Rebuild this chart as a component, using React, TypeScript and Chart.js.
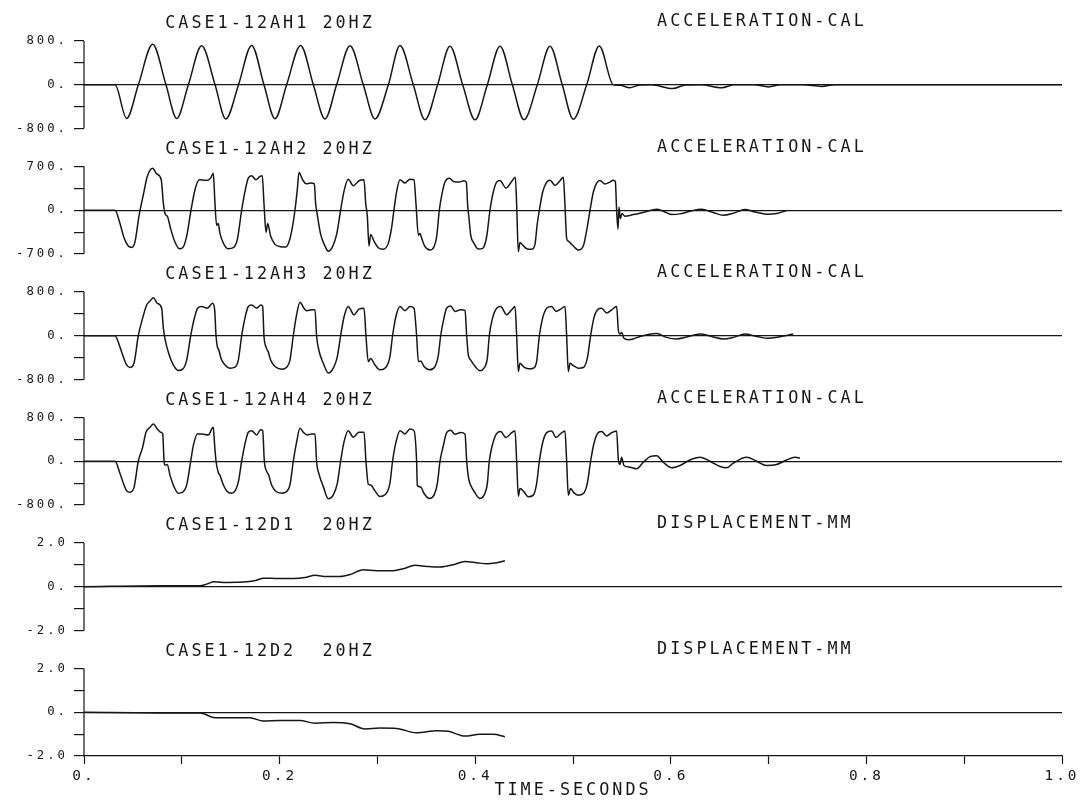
import React, { useEffect, useRef } from "react";
import { Chart, registerables } from "chart.js";

Chart.register(...registerables);

const FONT = '"DejaVu Sans Mono", "Liberation Mono", monospace';
const INK = "#161616";

// ---- panel descriptions ----
const PANEL_IDS = ["y0", "y1", "y2", "y3", "y4", "y5"];
const PANEL_LIMITS = [800, 700, 800, 800, 2, 2];
const PANEL_TICK_LABELS = [
  ["-800.", "", "0.", "", "800."],
  ["-700.", "", "0.", "", "700."],
  ["-800.", "", "0.", "", "800."],
  ["-800.", "", "0.", "", "800."],
  ["-2.0", "", "0.", "", "2.0"],
  ["-2.0", "", "0.", "", "2.0"],
];
const LEFT_TITLES = [
  "CASE1-12AH1 20HZ",
  "CASE1-12AH2 20HZ",
  "CASE1-12AH3 20HZ",
  "CASE1-12AH4 20HZ",
  "CASE1-12D1  20HZ",
  "CASE1-12D2  20HZ",
];
const RIGHT_TITLES = [
  "ACCELERATION-CAL",
  "ACCELERATION-CAL",
  "ACCELERATION-CAL",
  "ACCELERATION-CAL",
  "DISPLACEMENT-MM",
  "DISPLACEMENT-MM",
];

// ---- time axis ----
const X_TICKS = [0, 0.1, 0.2, 0.3, 0.4, 0.5, 0.6, 0.7, 0.8, 0.9, 1.0];
const X_TICK_LABELS = ["0.", "", "0.2", "", "0.4", "", "0.6", "", "0.8", "", "1.0"];
const X_TITLE = "TIME-SECONDS";

// ---- series: [time (s), value] ----
const AH1: [number, number][] = [
  [0, 0], [0.0317, 0], [0.0436, -615], [0.0556, 0], [0.0702, 740], [0.0838, 0], [0.0948, -615], [0.1067, 0],
  [0.1203, 712], [0.134, 0], [0.145, -625], [0.158, 0], [0.1714, 720], [0.184, 0], [0.1953, -620], [0.2072, 0],
  [0.2215, 720], [0.2345, 0], [0.2464, -625], [0.2583, 0], [0.272, 715], [0.2856, 0], [0.2975, -625], [0.3112, 0],
  [0.3231, 718], [0.3367, 0], [0.3487, -640], [0.3616, 0], [0.3742, 705], [0.3872, 0], [0.3998, -640], [0.4124, 0],
  [0.4254, 705], [0.438, 0], [0.4499, -640], [0.4635, 0], [0.4765, 705], [0.489, 0], [0.5003, -630], [0.514, 0],
  [0.5269, 710], [0.5412, 0], [0.548, -10], [0.558, -55], [0.568, -5], [0.58, 0], [0.602, -70], [0.615, -5],
  [0.63, 0], [0.652, -55], [0.665, 0], [0.685, 0], [0.7, -40], [0.712, 0], [0.735, 0], [0.754, -30],
  [0.768, 0], [0.8, 0], [1.0, 0],
];

const AH2: [number, number][] = [
  [0, 0], [0.0317, 0], [0.0368, -212], [0.0409, -440], [0.0453, -572], [0.0487, -594], [0.0521, -509], [0.0562, -95],
  [0.0607, 249], [0.0647, 541], [0.0702, 673], [0.0743, 583], [0.079, 488], [0.0811, 117], [0.0831, -64], [0.0852, -95],
  [0.0886, -297], [0.093, -509], [0.0975, -615], [0.1009, -599], [0.105, -413], [0.1094, 0], [0.1135, 329], [0.1179, 488],
  [0.1254, 477], [0.1295, 514], [0.1322, 594], [0.1339, 117], [0.1356, -244], [0.1373, -212], [0.139, -371], [0.1431, -546],
  [0.1475, -615], [0.1527, -599], [0.1568, -466], [0.1612, 0], [0.1646, 302], [0.168, 514], [0.1714, 551], [0.1758, 488],
  [0.1799, 541], [0.1823, 551], [0.184, 117], [0.1861, -350], [0.1878, -212], [0.1908, -413], [0.1953, -546], [0.2011, -583],
  [0.2065, -588], [0.2099, -493], [0.2133, -254], [0.2157, 0], [0.2181, 329], [0.2198, 604], [0.2236, 488], [0.227, 424],
  [0.2317, 435], [0.2355, 424], [0.2368, 117], [0.2385, -69], [0.242, -387], [0.2464, -572], [0.2498, -657], [0.2542, -583],
  [0.2583, -387], [0.2624, 0], [0.2658, 302], [0.2702, 498], [0.2753, 392], [0.2811, 472], [0.2863, 488], [0.288, 117],
  [0.2897, -95], [0.2914, -572], [0.2931, -387], [0.2965, -493], [0.3009, -599], [0.306, -625], [0.3111, -530], [0.3145, -281],
  [0.3169, 0], [0.3197, 302], [0.3231, 488], [0.3282, 435], [0.3333, 498], [0.3374, 488], [0.3394, 117], [0.3419, -398],
  [0.3436, -371], [0.3453, -450], [0.3487, -583], [0.3538, -636], [0.3579, -583], [0.3606, -424], [0.3633, 0], [0.3661, 265],
  [0.3691, 451], [0.3736, 514], [0.3776, 461], [0.3838, 451], [0.3885, 472], [0.3909, 451], [0.3923, 80], [0.3937, -133],
  [0.3954, -398], [0.3988, -530], [0.4032, -620], [0.4076, -610], [0.4117, -424], [0.4151, 0], [0.4185, 292], [0.4219, 451],
  [0.4253, 477], [0.4315, 355], [0.4373, 461], [0.441, 530], [0.4424, 80], [0.4441, -663], [0.4458, -514], [0.4485, -557],
  [0.4533, -620], [0.4577, -625], [0.4611, -546], [0.4635, -212], [0.4656, 0], [0.469, 292], [0.4731, 451], [0.4765, 482],
  [0.4816, 398], [0.4867, 472], [0.4901, 530], [0.4918, 80], [0.4935, -450], [0.4952, -493], [0.4976, -530], [0.501, -583],
  [0.5054, -636], [0.5106, -567], [0.514, -318], [0.5174, 0], [0.5208, 292], [0.5242, 435], [0.5276, 477], [0.5327, 419],
  [0.5378, 451], [0.5412, 482], [0.5433, 461], [0.5446, 0], [0.546, -302], [0.547, 53], [0.5484, -133], [0.5501, -53],
  [0.5531, -95], [0.5617, -69], [0.5736, -27], [0.5855, 16], [0.5923, -16], [0.6009, -69], [0.6094, -58], [0.6196, -16],
  [0.6316, 16], [0.6435, -37], [0.6537, -80], [0.6639, -48], [0.6758, 11], [0.6861, -27], [0.698, -64], [0.7082, -53],
  [0.7184, -5],
];

const AH3: [number, number][] = [
  [0, 0], [0.0317, 0], [0.0368, -208], [0.0402, -385], [0.0436, -534], [0.047, -581], [0.0511, -504], [0.0555, 0],
  [0.06, 326], [0.0641, 563], [0.0675, 634], [0.0709, 694], [0.075, 593], [0.0794, 504], [0.0811, 148], [0.0828, -59],
  [0.0862, -297], [0.0913, -534], [0.0964, -635], [0.1009, -611], [0.105, -445], [0.1091, 0], [0.1125, 297], [0.1162, 504],
  [0.1203, 534], [0.1261, 504], [0.1315, 593], [0.1336, 474], [0.135, 0], [0.1363, -196], [0.138, -267], [0.1401, -415],
  [0.1442, -534], [0.1493, -593], [0.1544, -575], [0.1578, -445], [0.1612, 0], [0.1646, 326], [0.168, 534], [0.1714, 563],
  [0.1765, 504], [0.1809, 563], [0.1827, 534], [0.184, 0], [0.1861, -208], [0.1885, -297], [0.1908, -445], [0.1953, -563],
  [0.2021, -611], [0.2072, -575], [0.2106, -445], [0.214, 0], [0.2174, 385], [0.2208, 611], [0.2249, 504], [0.2276, 457],
  [0.2328, 474], [0.2362, 474], [0.2378, 0], [0.2406, -297], [0.2447, -504], [0.2498, -682], [0.2549, -593], [0.259, -385],
  [0.2624, 0], [0.2658, 338], [0.2702, 534], [0.276, 385], [0.2811, 486], [0.2863, 504], [0.2883, 0], [0.2907, -474],
  [0.2931, -415], [0.2975, -534], [0.3026, -623], [0.3077, -593], [0.3128, -385], [0.3155, 0], [0.319, 356], [0.3231, 534],
  [0.3282, 457], [0.3333, 534], [0.3374, 504], [0.3401, 0], [0.3419, -474], [0.3442, -463], [0.3477, -563], [0.3531, -623],
  [0.3589, -563], [0.3623, -356], [0.3647, 0], [0.3674, 267], [0.3708, 504], [0.3749, 546], [0.3793, 445], [0.3851, 474],
  [0.3896, 463], [0.3913, 0], [0.393, -356], [0.3954, -445], [0.4008, -581], [0.4049, -640], [0.409, -593], [0.4124, -415],
  [0.4144, 0], [0.4178, 326], [0.4219, 504], [0.426, 534], [0.4322, 385], [0.4373, 474], [0.4407, 534], [0.4424, 0],
  [0.4441, -652], [0.4458, -504], [0.4492, -563], [0.4543, -605], [0.4594, -593], [0.4628, -474], [0.4656, 0], [0.469, 326],
  [0.4731, 504], [0.4782, 534], [0.4826, 445], [0.4874, 486], [0.4918, 534], [0.4935, 0], [0.4952, -652], [0.4969, -504],
  [0.5003, -546], [0.5054, -593], [0.5106, -581], [0.5146, -415], [0.518, 0], [0.5214, 326], [0.5258, 486], [0.5293, 504],
  [0.5344, 415], [0.5395, 474], [0.5446, 534], [0.5463, 119], [0.548, 30], [0.5497, 59], [0.5521, -47], [0.5565, -71],
  [0.5617, -59], [0.5685, -12], [0.5855, 42], [0.5957, -30], [0.606, -59], [0.6162, -24], [0.6298, 30], [0.6418, -12],
  [0.6537, -59], [0.6639, -30], [0.6758, 30], [0.6878, -12], [0.6997, -47], [0.7116, -18], [0.7252, 30],
];

const AH4: [number, number][] = [
  [0, 0], [0.0317, 0], [0.0368, -223], [0.0409, -433], [0.0436, -542], [0.047, -566], [0.0511, -482], [0.0555, 0],
  [0.06, 259], [0.0634, 530], [0.0675, 620], [0.0709, 680], [0.075, 590], [0.0784, 530], [0.0805, 500], [0.0818, 18],
  [0.0828, -72], [0.0852, -60], [0.0879, -253], [0.092, -464], [0.0964, -584], [0.1009, -566], [0.105, -433], [0.1091, 0],
  [0.1118, 289], [0.1159, 500], [0.1203, 500], [0.1271, 482], [0.1322, 620], [0.1336, 289], [0.135, 0], [0.1373, -205],
  [0.139, -253], [0.1418, -403], [0.1459, -542], [0.151, -584], [0.1545, -542], [0.1579, -373], [0.1612, 0], [0.1646, 319],
  [0.168, 530], [0.1714, 560], [0.1765, 482], [0.1806, 578], [0.1827, 560], [0.1844, 0], [0.1867, -181], [0.1888, -253],
  [0.1918, -433], [0.1963, -554], [0.2021, -584], [0.2072, -554], [0.2106, -433], [0.214, 0], [0.2174, 349], [0.2208, 602],
  [0.2249, 518], [0.2283, 482], [0.2328, 500], [0.2362, 500], [0.2378, 0], [0.2406, -253], [0.2447, -464], [0.2498, -686],
  [0.2549, -614], [0.259, -403], [0.2624, 0], [0.2658, 349], [0.2702, 560], [0.2753, 439], [0.2811, 530], [0.2863, 530],
  [0.2883, 0], [0.2907, -421], [0.2931, -433], [0.2975, -542], [0.3026, -644], [0.3077, -614], [0.3128, -403], [0.3155, 0],
  [0.319, 349], [0.3231, 560], [0.3282, 500], [0.3333, 590], [0.3374, 560], [0.3401, 0], [0.3408, -439], [0.3442, -470],
  [0.3477, -590], [0.3531, -680], [0.3579, -620], [0.3613, -409], [0.364, 0], [0.3674, 283], [0.3708, 524], [0.3749, 566],
  [0.3793, 494], [0.3851, 524], [0.3896, 494], [0.3913, 0], [0.3933, -319], [0.3954, -439], [0.3998, -578], [0.4049, -680],
  [0.409, -620], [0.4124, -409], [0.4144, 0], [0.4178, 313], [0.4219, 506], [0.426, 542], [0.4315, 433], [0.4373, 524],
  [0.4407, 554], [0.4424, 0], [0.4441, -638], [0.4458, -500], [0.4499, -560], [0.4543, -650], [0.4594, -620], [0.4628, -409],
  [0.4656, 0], [0.469, 343], [0.4731, 524], [0.4782, 554], [0.4826, 433], [0.4874, 506], [0.4918, 554], [0.4935, 0],
  [0.4952, -620], [0.4976, -500], [0.501, -578], [0.5054, -620], [0.5106, -590], [0.5146, -409], [0.518, 0], [0.5214, 325],
  [0.5258, 524], [0.5293, 542], [0.5344, 464], [0.5395, 524], [0.5446, 554], [0.5463, 42], [0.548, -60], [0.5497, 72],
  [0.5521, -78], [0.5583, -108], [0.5651, -138], [0.5719, -18], [0.5787, 84], [0.5855, 102], [0.5923, -18], [0.6009, -120],
  [0.6094, -78], [0.6196, 24], [0.6298, 72], [0.6401, 0], [0.6503, -96], [0.6571, -120], [0.6639, -36], [0.6775, 72],
  [0.6878, 0], [0.698, -78], [0.7082, -60], [0.7184, 24], [0.727, 72], [0.7321, 60],
];

const D1: [number, number][] = [
  [0, 0], [0.0777, 0.045], [0.1186, 0.045], [0.1254, 0.12], [0.1329, 0.226], [0.1459, 0.196], [0.1663, 0.226],
  [0.1765, 0.3], [0.1833, 0.39], [0.197, 0.376], [0.214, 0.376], [0.2259, 0.42], [0.2362, 0.526], [0.2481, 0.466],
  [0.2618, 0.466], [0.272, 0.556], [0.2856, 0.78], [0.2992, 0.737], [0.3163, 0.737], [0.3265, 0.827], [0.3385, 0.978],
  [0.3503, 0.93], [0.364, 0.9], [0.3776, 1.01], [0.3895, 1.16], [0.4015, 1.1], [0.4117, 1.05], [0.4219, 1.1],
  [0.4304, 1.19],
];

const D2: [number, number][] = [
  [0, 0], [0.0777, -0.03], [0.1186, -0.03], [0.122, -0.06], [0.1339, -0.25], [0.1527, -0.25], [0.1697, -0.25],
  [0.1833, -0.4], [0.2004, -0.38], [0.2208, -0.38], [0.2362, -0.5], [0.2549, -0.47], [0.272, -0.53], [0.2873, -0.76],
  [0.3026, -0.72], [0.3197, -0.74], [0.3401, -0.94], [0.3606, -0.84], [0.3725, -0.87], [0.3895, -1.09], [0.4049, -1.01],
  [0.4185, -1.01], [0.4304, -1.12],
];

const SERIES = [AH1, AH2, AH3, AH4, D1, D2];

// ---- layout geometry (pixels) ----
const CANVAS_W = 1089;
const CANVAS_H = 801;
const PLOT_LEFT = 84;
const PLOT_RIGHT = 1062;
const PLOT_BOTTOM = 756;
const BAND = 125.5; // pitch between panels
const SPAN = 87.5; // top tick -> bottom tick
const FIRST_TOP_TICK = 41;
const Y_LABEL_SIZE = 12.3;
const Y_LABEL_PAD = 6;
// Chart.js reserves half a label height + label padding above the stacked y axes
const AREA_TOP = (Y_LABEL_SIZE * 1.2) / 2 + Y_LABEL_PAD;
const FIRST_BAND = FIRST_TOP_TICK - AREA_TOP + SPAN;
const BAND_HEIGHTS = [FIRST_BAND, BAND, BAND, BAND, BAND, BAND];
const TITLE_LEFT_T = 0.083;
const TITLE_RIGHT_T = 0.586;

const decorPlugin = {
  id: "panelDecor",
  beforeLayout(chart: any) {
    chart.ctx.letterSpacing = "3px";
  },
  beforeDraw(chart: any) {
    chart.ctx.letterSpacing = "3px";
  },
  afterDraw(chart: any) {
    const { ctx, chartArea } = chart;
    const xs = chart.scales.x;
    ctx.save();
    ctx.letterSpacing = "3px";
    ctx.strokeStyle = INK;
    ctx.fillStyle = INK;
    ctx.lineWidth = 1.2;
    ctx.font = `16.8px ${FONT}`;
    ctx.textBaseline = "middle";
    ctx.textAlign = "left";
    PANEL_IDS.forEach((id, k) => {
      const s = chart.scales[id];
      const V = PANEL_LIMITS[k];
      const yTop = s.getPixelForValue(V);
      const yBot = s.getPixelForValue(-V);
      ctx.beginPath();
      ctx.moveTo(chartArea.left, yTop);
      ctx.lineTo(chartArea.left, yBot);
      ctx.stroke();
      ctx.fillText(LEFT_TITLES[k], xs.getPixelForValue(TITLE_LEFT_T), yTop - 17);
      ctx.fillText(RIGHT_TITLES[k], xs.getPixelForValue(TITLE_RIGHT_T), yTop - 19);
    });
    ctx.restore();
  },
};

export default function App() {
  const ref = useRef<HTMLCanvasElement | null>(null);

  useEffect(() => {
    if (!ref.current) return;
    const scales: any = {
      x: {
        type: "linear",
        position: "bottom",
        min: 0,
        max: 1,
        afterBuildTicks: (s: any) => {
          s.ticks = X_TICKS.map((v) => ({ value: v }));
        },
        afterFit: (s: any) => {
          s.height = CANVAS_H - PLOT_BOTTOM;
        },
        ticks: {
          callback: (_v: any, i: number) => X_TICK_LABELS[i] ?? "",
          autoSkip: false,
          maxRotation: 0,
          minRotation: 0,
          padding: 4,
          color: INK,
          font: { family: FONT, size: 14.4 },
        },
        grid: {
          drawOnChartArea: false,
          drawTicks: true,
          tickLength: 8,
          tickColor: INK,
          tickWidth: 1.2,
        },
        border: { display: true, color: INK, width: 1.2 },
        title: {
          display: true,
          text: X_TITLE,
          color: INK,
          font: { family: FONT, size: 16.8 },
          padding: { top: 0, bottom: 0 },
        },
      },
    };

    PANEL_IDS.forEach((id, k) => {
      const V = PANEL_LIMITS[k];
      const ratio = BAND_HEIGHTS[k] / SPAN;
      scales[id] = {
        type: "linear",
        position: "left",
        stack: "panels",
        stackWeight: BAND_HEIGHTS[k] / BAND,
        weight: 6 - k,
        min: -V,
        max: -V + 2 * V * ratio,
        afterBuildTicks: (s: any) => {
          s.ticks = [-V, -V / 2, 0, V / 2, V].map((v) => ({ value: v }));
        },
        afterFit: (s: any) => {
          s.width = PLOT_LEFT;
        },
        ticks: {
          callback: (_v: any, i: number) => PANEL_TICK_LABELS[k][i] ?? "",
          autoSkip: false,
          padding: Y_LABEL_PAD,
          color: INK,
          font: { family: FONT, size: Y_LABEL_SIZE, lineHeight: 1.2 },
        },
        grid: {
          drawOnChartArea: true,
          color: (c: any) => (c.tick && c.tick.value === 0 ? INK : "rgba(0,0,0,0)"),
          lineWidth: 1.2,
          drawTicks: true,
          tickLength: 10,
          tickColor: INK,
          tickWidth: 1.2,
        },
        border: { display: false },
      };
    });

    const chart = new Chart(ref.current, {
      type: "line",
      data: {
        datasets: SERIES.map((pts, k) => ({
          data: pts.map(([t, v]) => ({ x: t, y: v })),
          xAxisID: "x",
          yAxisID: PANEL_IDS[k],
          borderColor: INK,
          borderWidth: 1.5,
          pointRadius: 0,
          fill: false,
          cubicInterpolationMode: "monotone",
        })),
      },
      options: {
        animation: false,
        responsive: false,
        devicePixelRatio: 1,
        events: [],
        layout: { padding: { left: 0, right: CANVAS_W - PLOT_RIGHT, top: 3, bottom: 0 } },
        plugins: {
          legend: { display: false },
          tooltip: { enabled: false },
          title: { display: false },
        },
        scales,
      } as any,
      plugins: [decorPlugin],
    });

    return () => chart.destroy();
  }, []);

  return (
    <canvas
      ref={ref}
      width={CANVAS_W}
      height={CANVAS_H}
      style={{ position: "absolute", left: 0, top: 0, display: "block", background: "#fff" }}
    />
  );
}
